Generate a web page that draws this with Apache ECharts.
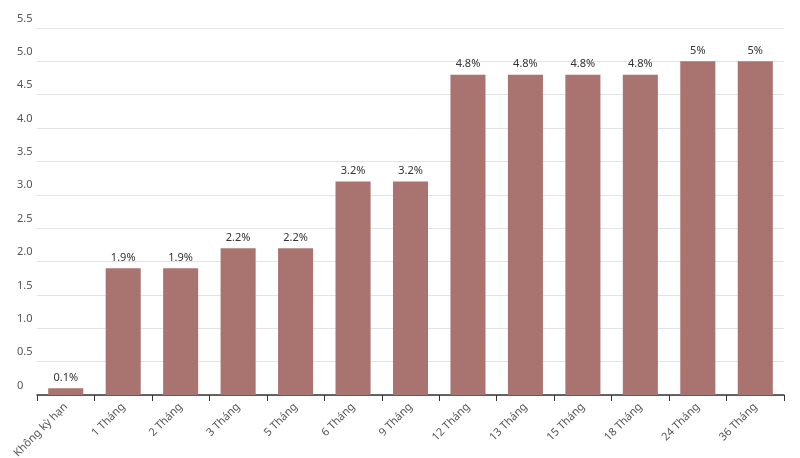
<!DOCTYPE html><html><head><meta charset="utf-8"><script src="https://cdn.jsdelivr.net/npm/echarts@6/dist/echarts.min.js"></script></head><body style="margin:0"><div id="c" style="width:800px;height:458px"></div><script>
const categories=['Không kỳ hạn','1 Tháng','2 Tháng','3 Tháng','5 Tháng','6 Tháng','9 Tháng','12 Tháng','13 Tháng','15 Tháng','18 Tháng','24 Tháng','36 Tháng'];
const values=[0.1,1.9,1.9,2.2,2.2,3.2,3.2,4.8,4.8,4.8,4.8,5,5];
const ch=echarts.init(document.getElementById('c'));
ch.setOption({animation:false,grid:{left:37,right:16,top:28,bottom:63,outerBoundsMode:'none',containLabel:false},
xAxis:{type:'category',data:categories,axisLine:{lineStyle:{color:'#333',width:1.5}},axisTick:{show:true,length:6,lineStyle:{color:'#333'}},
axisLabel:{rotate:45,color:'#555',fontFamily:'Noto Sans',fontSize:11,interval:0,margin:10}},
yAxis:{type:'value',min:0,max:5.5,interval:0.5,axisLine:{show:false},axisTick:{show:false},splitLine:{lineStyle:{color:'#e3e3e3'}},
axisLabel:{align:'left',verticalAlign:'bottom',margin:20,padding:[0,0,4,0],color:'#555',fontFamily:'Noto Sans',fontSize:11,formatter:v=>v===0?'0':v.toFixed(1)}},
series:[{type:'bar',data:values,barWidth:'61%',itemStyle:{color:'#a97370'},
label:{show:true,position:'top',color:'#333',fontFamily:'Noto Sans',fontSize:11,formatter:p=>p.value+'%'}}]});
</script></body></html>
